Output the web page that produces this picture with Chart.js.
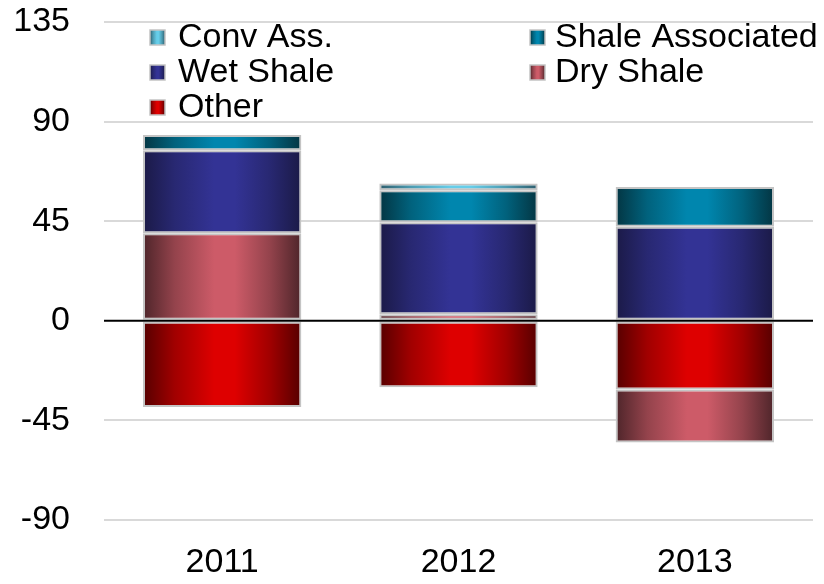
<!DOCTYPE html>
<html>
<head>
<meta charset="utf-8">
<script src="https://cdn.jsdelivr.net/npm/chart.js@4/dist/chart.umd.min.js"></script>
<style>
  html, body { margin: 0; padding: 0; background: #ffffff; }
  #wrap { width: 824px; height: 584px; }
</style>
</head>
<body>
<div id="wrap"><canvas id="c" width="824" height="584"></canvas></div>
<script>
// ---- Data ----
const years = ['2011', '2012', '2013'];
const convAss = [0, 3, 0];
const shaleAssociated = [7, 14.5, 18];
const wetShale = [37.5, 41.5, 42.5];
const dryShale = [39.5, 3, -24];
const other = [-39, -30, -31];
const yTicks = [-90, -45, 0, 45, 90, 135];

// ---- Styles ----
const FONT = '"Liberation Sans", Arial, sans-serif';
const palette = {
  conv:  { edge: '#2d5d6d', mid: '#66cde9' },
  shale: { edge: '#033542', mid: '#0086ae' },
  wet:   { edge: '#1b1a47', mid: '#333395' },
  dry:   { edge: '#4e252a', mid: '#cd5b68' },
  other: { edge: '#560000', mid: '#de0000' }
};
const BAR_PCT = 0.67;

function mix(a, b, t) {
  const pa = [1,3,5].map(i => parseInt(a.substr(i,2),16));
  const pb = [1,3,5].map(i => parseInt(b.substr(i,2),16));
  const r = pa.map((v,i) => Math.round(v + (pb[i]-v)*t));
  return 'rgb(' + r.join(',') + ')';
}
function makeGrad(ctx2d, x0, x1, p) {
  const g = ctx2d.createLinearGradient(x0, 0, x1, 0);
  g.addColorStop(0, p.edge);
  g.addColorStop(0.2, mix(p.edge, p.mid, 0.55));
  g.addColorStop(0.45, p.mid);
  g.addColorStop(0.58, p.mid);
  g.addColorStop(0.8, mix(p.edge, p.mid, 0.55));
  g.addColorStop(1, p.edge);
  return g;
}
function barFill(p) {
  return function(context) {
    const chart = context.chart;
    if (!chart.chartArea || !chart.scales.x) return p.mid;
    const xs = chart.scales.x;
    const cx = xs.getPixelForValue(context.dataIndex);
    const w = xs.width / years.length * BAR_PCT;
    return makeGrad(chart.ctx, cx - w/2, cx + w/2, p);
  };
}

function ds(label, data, p) {
  return {
    label: label,
    data: data,
    backgroundColor: barFill(p),
    borderColor: '#c4c4c4',
    borderWidth: 2,
    borderSkipped: false,
    barPercentage: BAR_PCT,
    categoryPercentage: 1.0
  };
}

// Stacking order: Other & Dry closest to zero
const datasets = [
  ds('Other', other, palette.other),
  ds('Dry Shale', dryShale, palette.dry),
  ds('Wet Shale', wetShale, palette.wet),
  ds('Shale Associated', shaleAssociated, palette.shale),
  ds('Conv Ass.', convAss, palette.conv)
];

const legendItems = [
  { label: 'Conv Ass.', p: palette.conv, col: 0, row: 0 },
  { label: 'Shale Associated', p: palette.shale, col: 1, row: 0 },
  { label: 'Wet Shale', p: palette.wet, col: 0, row: 1 },
  { label: 'Dry Shale', p: palette.dry, col: 1, row: 1 },
  { label: 'Other', p: palette.other, col: 0, row: 2 }
];

const overlayPlugin = {
  id: 'overlay',
  afterDatasetsDraw(chart) {
    const ctx = chart.ctx;
    const ys = chart.scales.y;
    const a = chart.chartArea;
    const y0 = ys.getPixelForValue(0);
    ctx.save();
    ctx.strokeStyle = '#000000';
    ctx.lineWidth = 2;
    ctx.beginPath();
    ctx.moveTo(a.left, y0);
    ctx.lineTo(a.right, y0);
    ctx.stroke();
    ctx.restore();
  },
  afterDraw(chart) {
    const ctx = chart.ctx;
    const boxX = [150, 530];
    const textX = [178, 555];
    const rowY = [37, 72, 107];
    ctx.save();
    ctx.font = '34px ' + FONT;
    ctx.textBaseline = 'middle';
    ctx.textAlign = 'left';
    legendItems.forEach(it => {
      const bx = boxX[it.col], by = rowY[it.row] - 7;
      ctx.fillStyle = makeGrad(ctx, bx, bx + 15, it.p);
      ctx.fillRect(bx, by, 15, 15);
      ctx.strokeStyle = '#c4c4c4';
      ctx.lineWidth = 1.5;
      ctx.strokeRect(bx, by, 15, 15);
      ctx.fillStyle = '#000000';
      ctx.fillText(it.label, textX[it.col], rowY[it.row] + 1);
    });
    ctx.restore();
  }
};

new Chart(document.getElementById('c'), {
  type: 'bar',
  data: { labels: years, datasets: datasets },
  options: {
    responsive: false,
    animation: false,
    devicePixelRatio: 1,
    layout: { padding: { top: 22, right: 11, left: 0, bottom: 0 } },
    plugins: {
      legend: { display: false },
      tooltip: { enabled: false }
    },
    scales: {
      x: {
        stacked: true,
        grid: { display: false, drawTicks: false },
        border: { display: false },
        ticks: { color: '#000000', font: { size: 34, family: FONT }, padding: 22 },
        afterFit(scale) { scale.height = 64; scale.paddingLeft = 0; scale.paddingRight = 0; }
      },
      y: {
        stacked: true,
        min: -90,
        max: 135,
        afterBuildTicks(scale) { scale.ticks = yTicks.map(v => ({ value: v })); },
        grid: {
          drawTicks: false,
          lineWidth: 2,
          color: (c) => (c.tick && c.tick.value === 0) ? 'rgba(0,0,0,0)' : '#d9d9d9'
        },
        border: { display: false },
        ticks: { color: '#000000', font: { size: 34, family: FONT }, padding: 34 },
        afterFit(scale) { scale.width = 104; scale.paddingTop = 0; scale.paddingBottom = 0; }
      }
    }
  },
  plugins: [overlayPlugin]
});
</script>
</body>
</html>
